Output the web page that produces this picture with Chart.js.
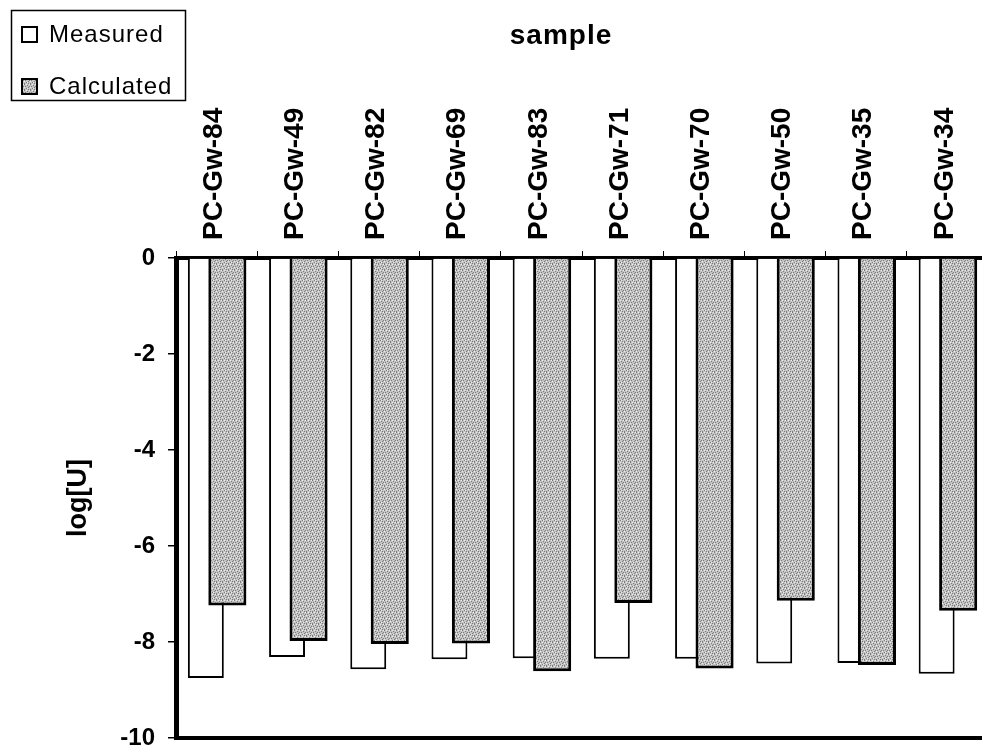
<!DOCTYPE html>
<html>
<head>
<meta charset="utf-8">
<script src="https://cdn.jsdelivr.net/npm/chart.js@4.4.1/dist/chart.umd.min.js"></script>
<style>
  html, body { margin: 0; padding: 0; background: #fff; overflow: hidden; }
  #chart { display: block; }
</style>
</head>
<body>
<canvas id="chart" width="992" height="756"></canvas>
<script>
var samples = ['PC-Gw-84', 'PC-Gw-49', 'PC-Gw-82', 'PC-Gw-69', 'PC-Gw-83',
               'PC-Gw-71', 'PC-Gw-70', 'PC-Gw-50', 'PC-Gw-35', 'PC-Gw-34'];
var measured   = [-8.75, -8.31, -8.57, -8.36, -8.34, -8.35, -8.35, -8.45, -8.44, -8.66];
var calculated = [-7.24, -7.98, -8.04, -8.03, -8.61, -7.19, -8.55, -7.14, -8.48, -7.35];
var yMin = -10, yMax = 0, yStep = 2;

var FONT = "'Liberation Sans', Arial, sans-serif";

// speckled grey fill like the scanned bars
var makeGrey = function(){
  var c = document.createElement('canvas');
  c.width = 6; c.height = 6;
  var g = c.getContext('2d');
  g.fillStyle = '#c4c4c4';
  g.fillRect(0, 0, 6, 6);
  var dark = [[0,0],[3,1],[1,2],[5,2],[2,4],[4,3],[0,5],[4,5]];
  var light = [[2,0],[5,0],[0,3],[3,4]];
  g.fillStyle = '#7c7c7c';
  dark.forEach(function(p){ g.fillRect(p[0], p[1], 1, 1); });
  g.fillStyle = '#ececec';
  light.forEach(function(p){ g.fillRect(p[0], p[1], 1, 1); });
  return document.getElementById('chart').getContext('2d').createPattern(c, 'repeat');
};
var grey = makeGrey();

// left bars under right bars, legend box, top title
var extras = {
  id: 'extras',
  beforeDatasetsDraw: function(chart){
    var ctx = chart.ctx;
    ctx.save();
    chart.getDatasetMeta(0).controller.draw();
    chart.getDatasetMeta(1).controller.draw();
    ctx.restore();
    return false;
  },
  afterDraw: function(chart){
    var ctx = chart.ctx;
    ctx.save();
    ctx.strokeStyle = '#000';
    ctx.lineWidth = 1.5;
    ctx.strokeRect(11.5, 10.5, 174, 90);

    ctx.font = '24px ' + FONT;
    ctx.letterSpacing = '1px';
    ctx.textBaseline = 'alphabetic';
    ctx.textAlign = 'left';
    var rows = [42, 94];
    chart.data.datasets.forEach(function(ds, i){
      var y = rows[i];
      ctx.fillStyle = ds.backgroundColor;
      ctx.fillRect(22, y - 15, 15, 15);
      ctx.lineWidth = 2;
      ctx.strokeStyle = '#000';
      ctx.strokeRect(22, y - 15, 15, 15);
      ctx.fillStyle = '#000';
      ctx.fillText(ds.label, 49, y);
    });

    ctx.font = 'bold 28px ' + FONT;
    ctx.letterSpacing = '1px';
    ctx.textAlign = 'center';
    ctx.fillText('sample', 561, 44);
    ctx.restore();
  }
};

var ctx = document.getElementById('chart');
var chart = new Chart(ctx, {
  type: 'bar',
  data: {
    labels: samples,
    datasets: [
      {
        label: 'Measured',
        data: measured,
        backgroundColor: '#ffffff',
        borderColor: '#000',
        borderWidth: 2,
        barPercentage: 1.67
      },
      {
        label: 'Calculated',
        data: calculated,
        backgroundColor: grey,
        borderColor: '#000',
        borderWidth: 3,
        barPercentage: 1.77
      }
    ]
  },
  options: {
    responsive: false,
    devicePixelRatio: 1,
    animation: false,
    categoryPercentage: 0.53,
    layout: { padding: { left: 0, top: 0, right: 4, bottom: 18 } },
    plugins: {
      legend: { display: false },
      tooltip: { enabled: false }
    },
    scales: {
      x: {
        position: 'top',
        afterFit: function(scale){ scale.height = 258; scale.paddingLeft = 0; scale.paddingRight = 0; },
        grid: { display: true, drawOnChartArea: false, drawTicks: true, tickLength: 7, color: '#000', lineWidth: 1 },
        border: { display: true, width: 4, color: '#000' },
        ticks: {
          autoSkip: false,
          minRotation: 90,
          maxRotation: 90,
          padding: 11,
          labelOffset: 31,
          color: '#000',
          font: { family: FONT, size: 28, weight: 'bold' }
        }
      },
      x2: {
        position: 'bottom',
        afterFit: function(scale){ scale.height = 0; scale.paddingLeft = 0; scale.paddingRight = 0; },
        grid: { display: false },
        border: { display: true, width: 4, color: '#000' },
        ticks: { display: false }
      },
      y: {
        min: yMin,
        max: yMax,
        afterFit: function(scale){ scale.width = 176; scale.paddingTop = 0; scale.paddingBottom = 0; },
        grid: { display: true, drawOnChartArea: false, drawTicks: true, tickLength: 8, color: '#000', lineWidth: 1.5 },
        border: { display: true, width: 5, color: '#000' },
        ticks: {
          stepSize: yStep,
          padding: 13,
          color: '#000',
          font: { family: FONT, size: 24, weight: 'bold' }
        },
        title: {
          display: true,
          text: 'log[U]',
          color: '#000',
          padding: { top: 62, bottom: 0 },
          font: { family: FONT, size: 27, weight: 'bold' }
        }
      }
    }
  },
  plugins: [extras]
});
</script>
</body>
</html>
